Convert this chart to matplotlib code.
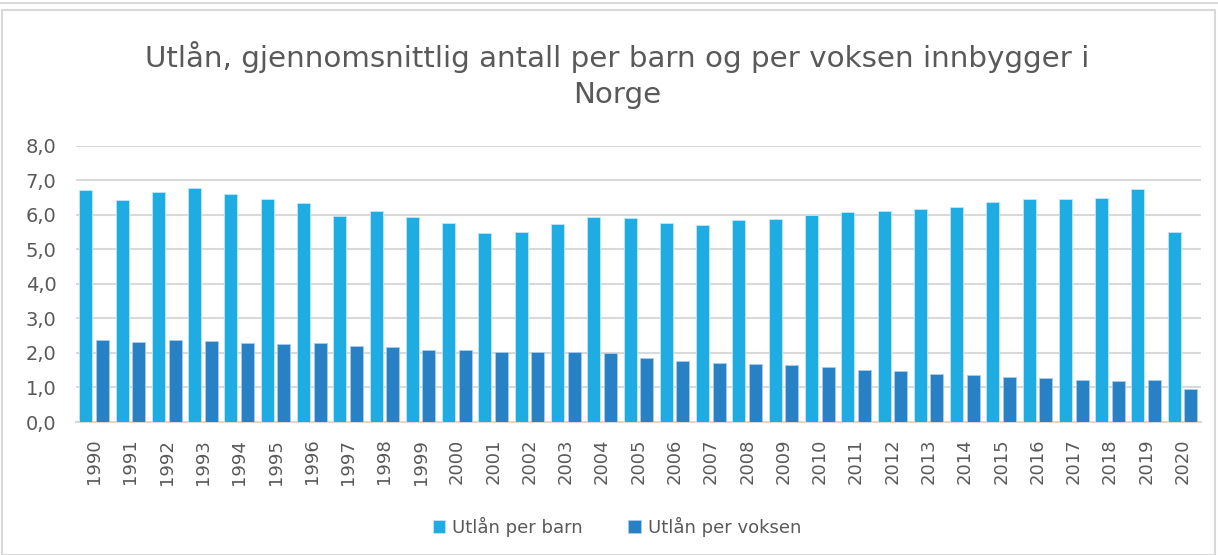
import matplotlib
matplotlib.use("Agg")
import matplotlib.pyplot as plt
import numpy as np
from matplotlib.patches import Rectangle

years = [str(y) for y in range(1990, 2021)]
per_barn = [6.72, 6.43, 6.66, 6.77, 6.60, 6.47, 6.34, 5.97, 6.10, 5.94,
            5.75, 5.48, 5.50, 5.72, 5.94, 5.91, 5.75, 5.71, 5.85, 5.89,
            5.98, 6.07, 6.11, 6.17, 6.22, 6.37, 6.45, 6.45, 6.49, 6.75, 5.50]
per_voksen = [2.37, 2.32, 2.37, 2.35, 2.28, 2.26, 2.28, 2.19, 2.17, 2.08,
              2.08, 2.03, 2.02, 2.03, 2.00, 1.85, 1.77, 1.70, 1.67, 1.66,
              1.59, 1.52, 1.47, 1.39, 1.35, 1.31, 1.26, 1.22, 1.19, 1.21, 0.96]
series_names = ["Utlån per barn", "Utlån per voksen"]
title = "Utlån, gjennomsnittlig antall per barn og per voksen innbygger i\nNorge"
yticks = np.arange(0, 8.01, 1.0)

c_barn = "#1EACE3"
c_voksen = "#2781C4"
text_col = "#595959"
grid_col = "#D9D9D9"

plt.rcParams['font.family'] = ['DejaVu Sans']

fig = plt.figure(figsize=(12.18, 5.55), dpi=100)
ax = fig.add_axes([76/1218, 1-422/555, (1200.7-76)/1218, (422-145.7)/555])

x = np.arange(len(years))
w = 0.358
gap = 0.1
ax.bar(x - (w+gap)/2, per_barn, width=w, color=c_barn, edgecolor="#BFE6F7", linewidth=0.6,
       label=series_names[0], zorder=3)
ax.bar(x + (w+gap)/2, per_voksen, width=w, color=c_voksen, edgecolor="#A9CDEB", linewidth=0.6,
       label=series_names[1], zorder=3)

ax.set_xlim(-0.5, len(years)-0.5)
ax.set_ylim(0, 8)
ax.set_yticks(yticks)
ax.set_yticklabels([f"{v:.1f}".replace(".", ",") for v in yticks], fontsize=14, color=text_col)
ax.set_xticks(x)
ax.set_xticklabels(years, rotation=90, fontsize=13, color=text_col)
ax.tick_params(axis='both', length=0)
ax.tick_params(axis='y', pad=14)
ax.tick_params(axis='x', pad=12)
ax.grid(axis='y', color=grid_col, linewidth=1.5, zorder=0)
for s in ['top', 'right', 'left']:
    ax.spines[s].set_visible(False)
ax.spines['bottom'].set_color(grid_col)
ax.spines['bottom'].set_linewidth(1.5)

fig.text(617/1218, 1-75/555, title, ha='center', va='center', fontsize=21.2,
         color=text_col, linespacing=1.4)

leg = fig.legend(loc='center', bbox_to_anchor=(617/1218, 1-527/555), ncol=2, frameon=False,
                 fontsize=13, handlelength=0.7, handleheight=0.7, handletextpad=0.4,
                 columnspacing=2.5)
for t in leg.get_texts():
    t.set_color(text_col)

# outer chart border
fig.patches.append(Rectangle((2/1218, 0), (1215-2)/1218, 1-10/555, transform=fig.transFigure,
                             fill=False, edgecolor="#D9D9D9", linewidth=1.5))
fig.lines.append(plt.Line2D([0, 1], [1-3/555, 1-3/555], transform=fig.transFigure,
                            color="#D9D9D9", linewidth=1.5))

fig.savefig("out.png", dpi=100)
